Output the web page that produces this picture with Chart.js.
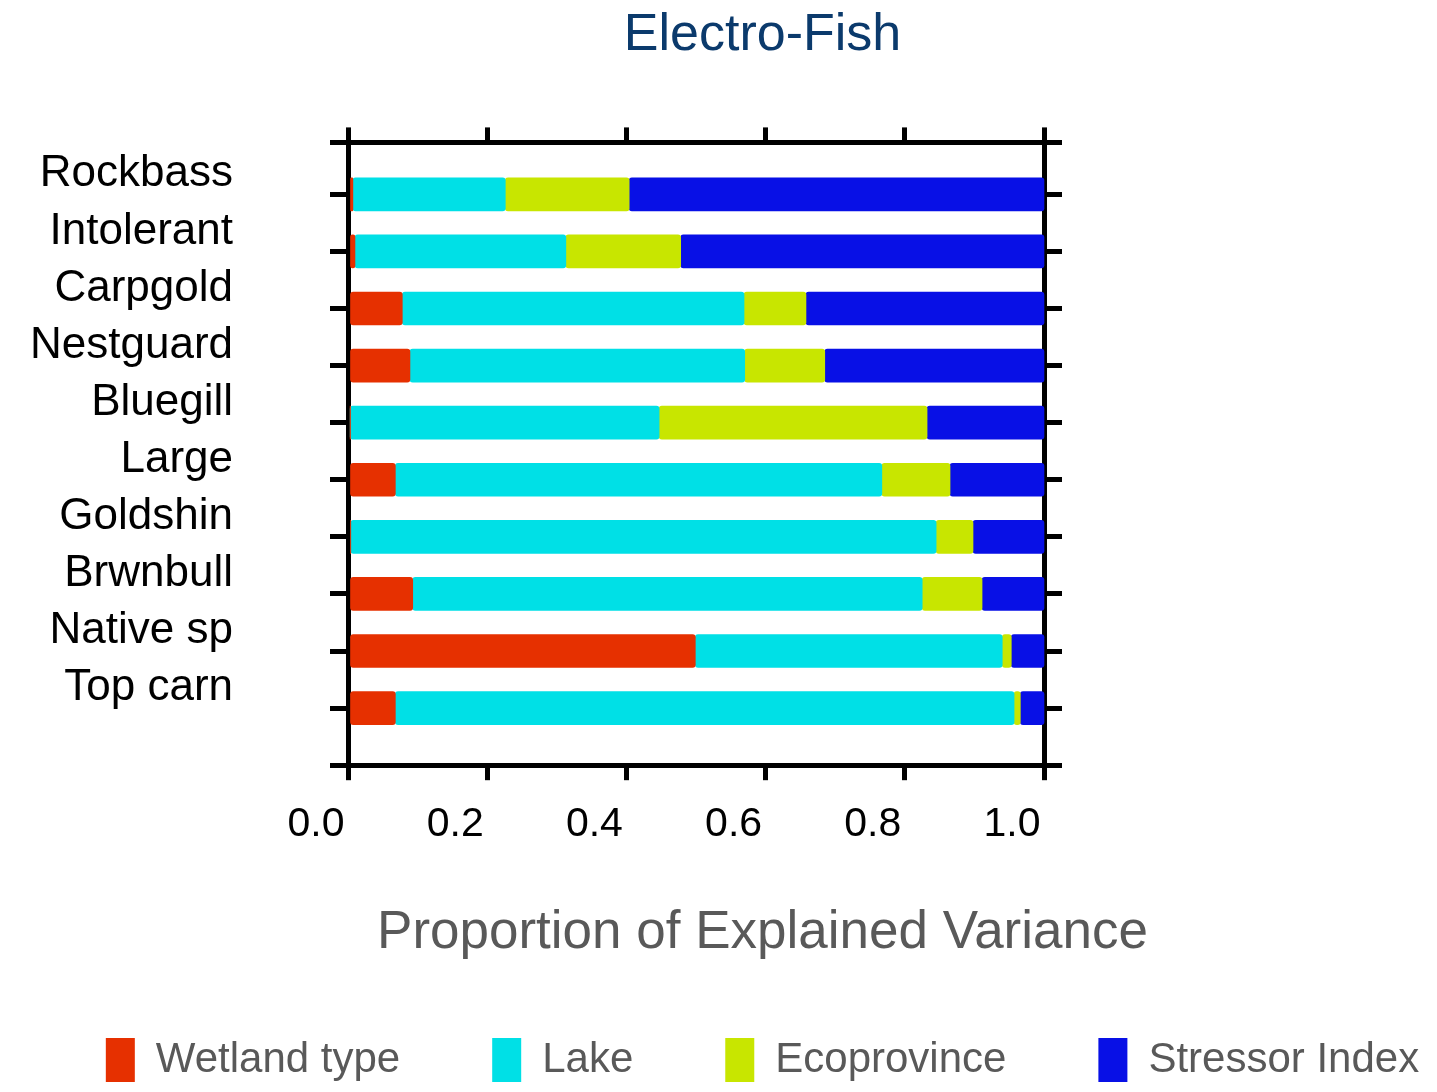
<!DOCTYPE html>
<html>
<head>
<meta charset="utf-8">
<title>Electro-Fish</title>
<script src="https://cdn.jsdelivr.net/npm/chart.js@4/dist/chart.umd.min.js"></script>
<style>
  html, body { margin: 0; padding: 0; background: #fff; }
  #wrap { width: 1437px; height: 1092px; position: relative; }
</style>
</head>
<body>
<div id="wrap"><canvas id="chart"></canvas></div>
<script>
// species / guilds, top to bottom
const categories = ['Rockbass', 'Intolerant', 'Carpgold', 'Nestguard', 'Bluegill',
                    'Large', 'Goldshin', 'Brwnbull', 'Native sp', 'Top carn'];

// proportion of explained variance per predictor group
const wetlandType   = [0.007, 0.010, 0.078, 0.089, 0.003, 0.068, 0.004, 0.093, 0.499, 0.068];
const lake          = [0.219, 0.303, 0.491, 0.481, 0.444, 0.699, 0.841, 0.732, 0.441, 0.889];
const ecoprovince   = [0.178, 0.165, 0.089, 0.115, 0.385, 0.098, 0.053, 0.086, 0.013, 0.009];
const stressorIndex = [0.596, 0.522, 0.342, 0.315, 0.168, 0.135, 0.102, 0.089, 0.047, 0.034];

const seriesNames = ['Wetland type', 'Lake', 'Ecoprovince', 'Stressor Index'];
const seriesValues = [wetlandType, lake, ecoprovince, stressorIndex];
const seriesColors = ['#e63000', '#00e0e6', '#c8e600', '#0810e6'];

Chart.defaults.font.family = '"Liberation Sans", Arial, sans-serif';
Chart.defaults.color = '#000';

const datasets = seriesNames.map((name, k) => ({
    label: name,
    data: seriesValues[k].map((v, i) => ({ x: v, y: i })),
    backgroundColor: seriesColors[k],
    borderWidth: 0,
    borderSkipped: false,
    borderRadius: { topLeft: 3, topRight: 3, bottomLeft: 3, bottomRight: 3 },
    barThickness: 33,
    clip: 8
}));

const frameGrid = (len) => ({
    offset: false,
    drawOnChartArea: false,
    drawTicks: true,
    tickLength: len,
    lineWidth: 5,
    color: '#000'
});
const frameBorder = { display: true, width: 5, color: '#000' };

new Chart(document.getElementById('chart'), {
    type: 'bar',
    data: { datasets: datasets },
    options: {
        indexAxis: 'y',
        responsive: true,
        maintainAspectRatio: false,
        animation: false,
        // negative right padding moves the centre of title/legend to the right
        layout: { padding: { left: 0, right: -88, top: 0, bottom: 0 } },
        scales: {
            x: {
                type: 'linear',
                position: 'bottom',
                stacked: true,
                min: 0,
                max: 1,
                grid: frameGrid(15),
                border: frameBorder,
                ticks: {
                    stepSize: 0.2,
                    padding: 20,
                    labelOffset: -32,
                    font: { size: 41 },
                    color: '#000',
                    callback: (v) => Number(v).toFixed(1)
                }
            },
            x2: {
                type: 'linear',
                position: 'top',
                min: 0,
                max: 1,
                grid: frameGrid(15),
                border: frameBorder,
                ticks: { display: false, stepSize: 0.2 }
            },
            y: {
                type: 'linear',
                position: 'left',
                stacked: true,
                reverse: true,
                offset: false,
                min: -0.91,
                max: 10,
                grid: frameGrid(18),
                border: frameBorder,
                afterFit: (scale) => { scale.width = 348; },
                ticks: {
                    stepSize: 1,
                    autoSkip: false,
                    padding: 97,
                    labelOffset: -20,
                    font: { size: 44 },
                    color: '#000',
                    callback: (v) => categories[v] ?? ''
                }
            },
            y2: {
                type: 'linear',
                position: 'right',
                reverse: true,
                offset: false,
                min: -0.91,
                max: 10,
                grid: frameGrid(18),
                border: frameBorder,
                afterFit: (scale) => { scale.width = 481; },
                ticks: { display: false, stepSize: 1 }
            }
        },
        plugins: {
            title: {
                display: true,
                text: 'Electro-Fish',
                color: '#0b3a6c',
                font: { size: 52, weight: 'normal' },
                padding: { top: 4, bottom: 61 }
            },
            subtitle: {
                display: true,
                position: 'bottom',
                weight: 500,
                text: 'Proportion of Explained Variance',
                color: '#595959',
                font: { size: 53, weight: 'normal' },
                padding: { top: 32, bottom: -19 }
            },
            legend: {
                position: 'bottom',
                align: 'center',
                labels: {
                    boxWidth: 29,
                    boxHeight: 44,
                    padding: 92,
                    color: '#595959',
                    font: { size: 42 }
                }
            },
            tooltip: { enabled: false }
        }
    }
});
</script>
</body>
</html>
